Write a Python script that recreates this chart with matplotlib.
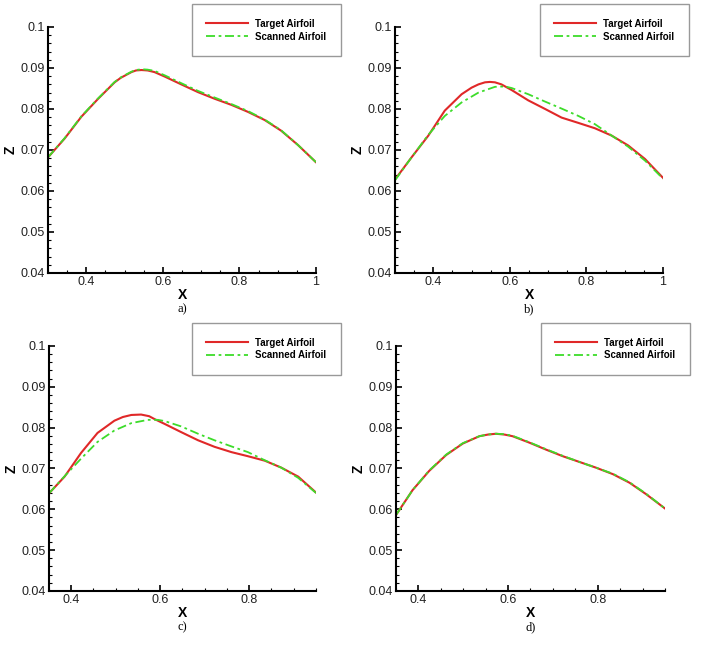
import matplotlib.pyplot as plt
from matplotlib.ticker import MultipleLocator, FormatStrFormatter

plt.rcParams['font.family'] = ['Liberation Sans', 'DejaVu Sans']

# panel a)
xa = [0.30, 0.3435, 0.387, 0.431, 0.474, 0.49, 0.518, 0.53, 0.544, 0.56, 0.578, 0.605, 0.648,
      0.692, 0.735, 0.779, 0.822, 0.866, 0.909, 0.953, 1.00]
za_target = [0.0682, 0.0728, 0.0781, 0.0825, 0.0865, 0.0876, 0.0890, 0.0894, 0.0895, 0.0894,
             0.0890, 0.0879, 0.0860, 0.0841, 0.0825, 0.0810, 0.0793, 0.0773, 0.0747, 0.0712, 0.0670]
za_scanned = [0.0682, 0.0729, 0.0782, 0.0826, 0.0866, 0.0877, 0.0891, 0.0895, 0.0897, 0.0896,
              0.0893, 0.0882, 0.0863, 0.0844, 0.0828, 0.0812, 0.0795, 0.0774, 0.0748, 0.0712, 0.0670]

# panel b)
xb = [0.30, 0.344, 0.387, 0.43, 0.474, 0.50, 0.518, 0.535, 0.548, 0.561, 0.578, 0.605, 0.648,
      0.692, 0.735, 0.779, 0.822, 0.866, 0.909, 0.953, 1.00]
zb_target = [0.0628, 0.0683, 0.0735, 0.0796, 0.0836, 0.0852, 0.0860, 0.0865, 0.0866, 0.0865,
             0.0860, 0.0846, 0.0821, 0.0800, 0.0779, 0.0766, 0.0753, 0.0735, 0.0711, 0.0678, 0.0632]
xb_s = [0.30, 0.344, 0.387, 0.43, 0.474, 0.518, 0.561, 0.587, 0.605, 0.648,
        0.692, 0.735, 0.779, 0.822, 0.866, 0.909, 0.953, 1.00]
zb_scanned = [0.0626, 0.0683, 0.0737, 0.0783, 0.0816, 0.0840, 0.0854, 0.0855, 0.0851, 0.0836,
              0.0818, 0.0801, 0.0783, 0.0763, 0.0735, 0.0708, 0.0674, 0.0630]

# panel c)
xc = [0.35, 0.385, 0.422, 0.459, 0.497, 0.516, 0.535, 0.557, 0.575, 0.587, 0.610, 0.647,
      0.685, 0.722, 0.760, 0.797, 0.835, 0.872, 0.910, 0.95]
zc_target = [0.0639, 0.0680, 0.0738, 0.0787, 0.0817, 0.0826, 0.0831, 0.0832, 0.0828, 0.0821,
             0.0809, 0.0789, 0.0769, 0.0753, 0.0740, 0.0730, 0.0719, 0.0702, 0.0680, 0.0641]
xc_s = [0.35, 0.385, 0.422, 0.459, 0.497, 0.535, 0.572, 0.595, 0.610, 0.647,
        0.685, 0.722, 0.760, 0.797, 0.835, 0.872, 0.910, 0.95]
zc_scanned = [0.0639, 0.0681, 0.0724, 0.0765, 0.0793, 0.0811, 0.0819, 0.0819, 0.0816, 0.0803,
              0.0785, 0.0769, 0.0754, 0.0740, 0.0720, 0.0702, 0.0677, 0.0640]

# panel d)
xd = [0.35, 0.387, 0.424, 0.462, 0.499, 0.536, 0.555, 0.573, 0.592, 0.610, 0.648, 0.685,
      0.722, 0.759, 0.796, 0.834, 0.871, 0.908, 0.95]
zd_target = [0.0586, 0.0647, 0.0694, 0.0733, 0.0761, 0.0779, 0.0783, 0.0785, 0.0783, 0.0779,
             0.0763, 0.0746, 0.0730, 0.0716, 0.0702, 0.0686, 0.0665, 0.0637, 0.0602]
zd_scanned = [0.0586, 0.0647, 0.0695, 0.0734, 0.0762, 0.0779, 0.0783, 0.0785, 0.0784, 0.0780,
              0.0764, 0.0747, 0.0731, 0.0716, 0.0702, 0.0687, 0.0666, 0.0638, 0.0602]

panels = [
    ('a)', xa, za_target, xa, za_scanned, (0.3, 1.0), [0.0683, 0.5781, 0.3812, 0.3802], (341, 4)),
    ('b)', xb, zb_target, xb_s, zb_scanned, (0.3, 1.0), [0.5619, 0.5781, 0.3812, 0.3802], (689, 4)),
    ('c)', xc, zc_target, xc_s, zc_scanned, (0.35, 0.95), [0.0697, 0.0866, 0.3798, 0.3787], (341, 323)),
    ('d)', xd, zd_target, xd, zd_scanned, (0.35, 0.95), [0.5633, 0.0866, 0.3826, 0.3787], (690, 323)),
]

W, H = 703, 647
fig = plt.figure(figsize=(W / 100, H / 100), dpi=100)

for tag, xt, zt, xs, zs, xlim, pos, leg in panels:
    ax = fig.add_axes(pos)
    ax.plot(xt, zt, color='#e02828', lw=1.5, label='Target Airfoil')
    ax.plot(xs, zs, color='#3ddc2a', lw=1.3, ls='-.', dashes=(5, 2, 1.5, 2), label='Scanned Airfoil')
    ax.set_xlim(*xlim)
    ax.set_ylim(0.04, 0.1)
    ax.spines['top'].set_visible(False)
    ax.spines['right'].set_visible(False)
    for s in ('left', 'bottom'):
        ax.spines[s].set_linewidth(1.5)
    ax.xaxis.set_major_locator(MultipleLocator(0.2))
    ax.xaxis.set_minor_locator(MultipleLocator(0.05))
    ax.yaxis.set_major_locator(MultipleLocator(0.01))
    ax.yaxis.set_minor_locator(MultipleLocator(0.002))
    ax.xaxis.set_major_formatter(FormatStrFormatter('%g'))
    ax.yaxis.set_major_formatter(FormatStrFormatter('%g'))
    ax.tick_params(which='major', direction='in', length=4.5, width=1.2, labelsize=9, pad=2,
                   labelcolor='#222222', top=False, right=False)
    ax.tick_params(which='minor', direction='in', length=2.5, width=0.8, top=False, right=False)
    ax.set_xlabel('X', fontsize=10, fontweight='bold', labelpad=0)
    ax.set_ylabel('Z', fontsize=10, fontweight='bold', labelpad=2)
    ax.text(0.5, -0.125, tag, transform=ax.transAxes, ha='center', va='top',
            fontsize=9, family='Liberation Serif')
    lg = ax.legend(loc='upper right', bbox_to_anchor=(leg[0] / W, 1 - leg[1] / H),
                   bbox_transform=fig.transFigure, prop={'size': 7, 'weight': 'bold'},
                   handlelength=4.3, handletextpad=0.75, labelspacing=0.3, borderpad=1.5,
                   borderaxespad=0, fancybox=False, framealpha=1)
    lg.get_frame().set_edgecolor('#999999')
    lg.get_frame().set_linewidth(1.0)

fig.savefig('out.png', dpi=100)
